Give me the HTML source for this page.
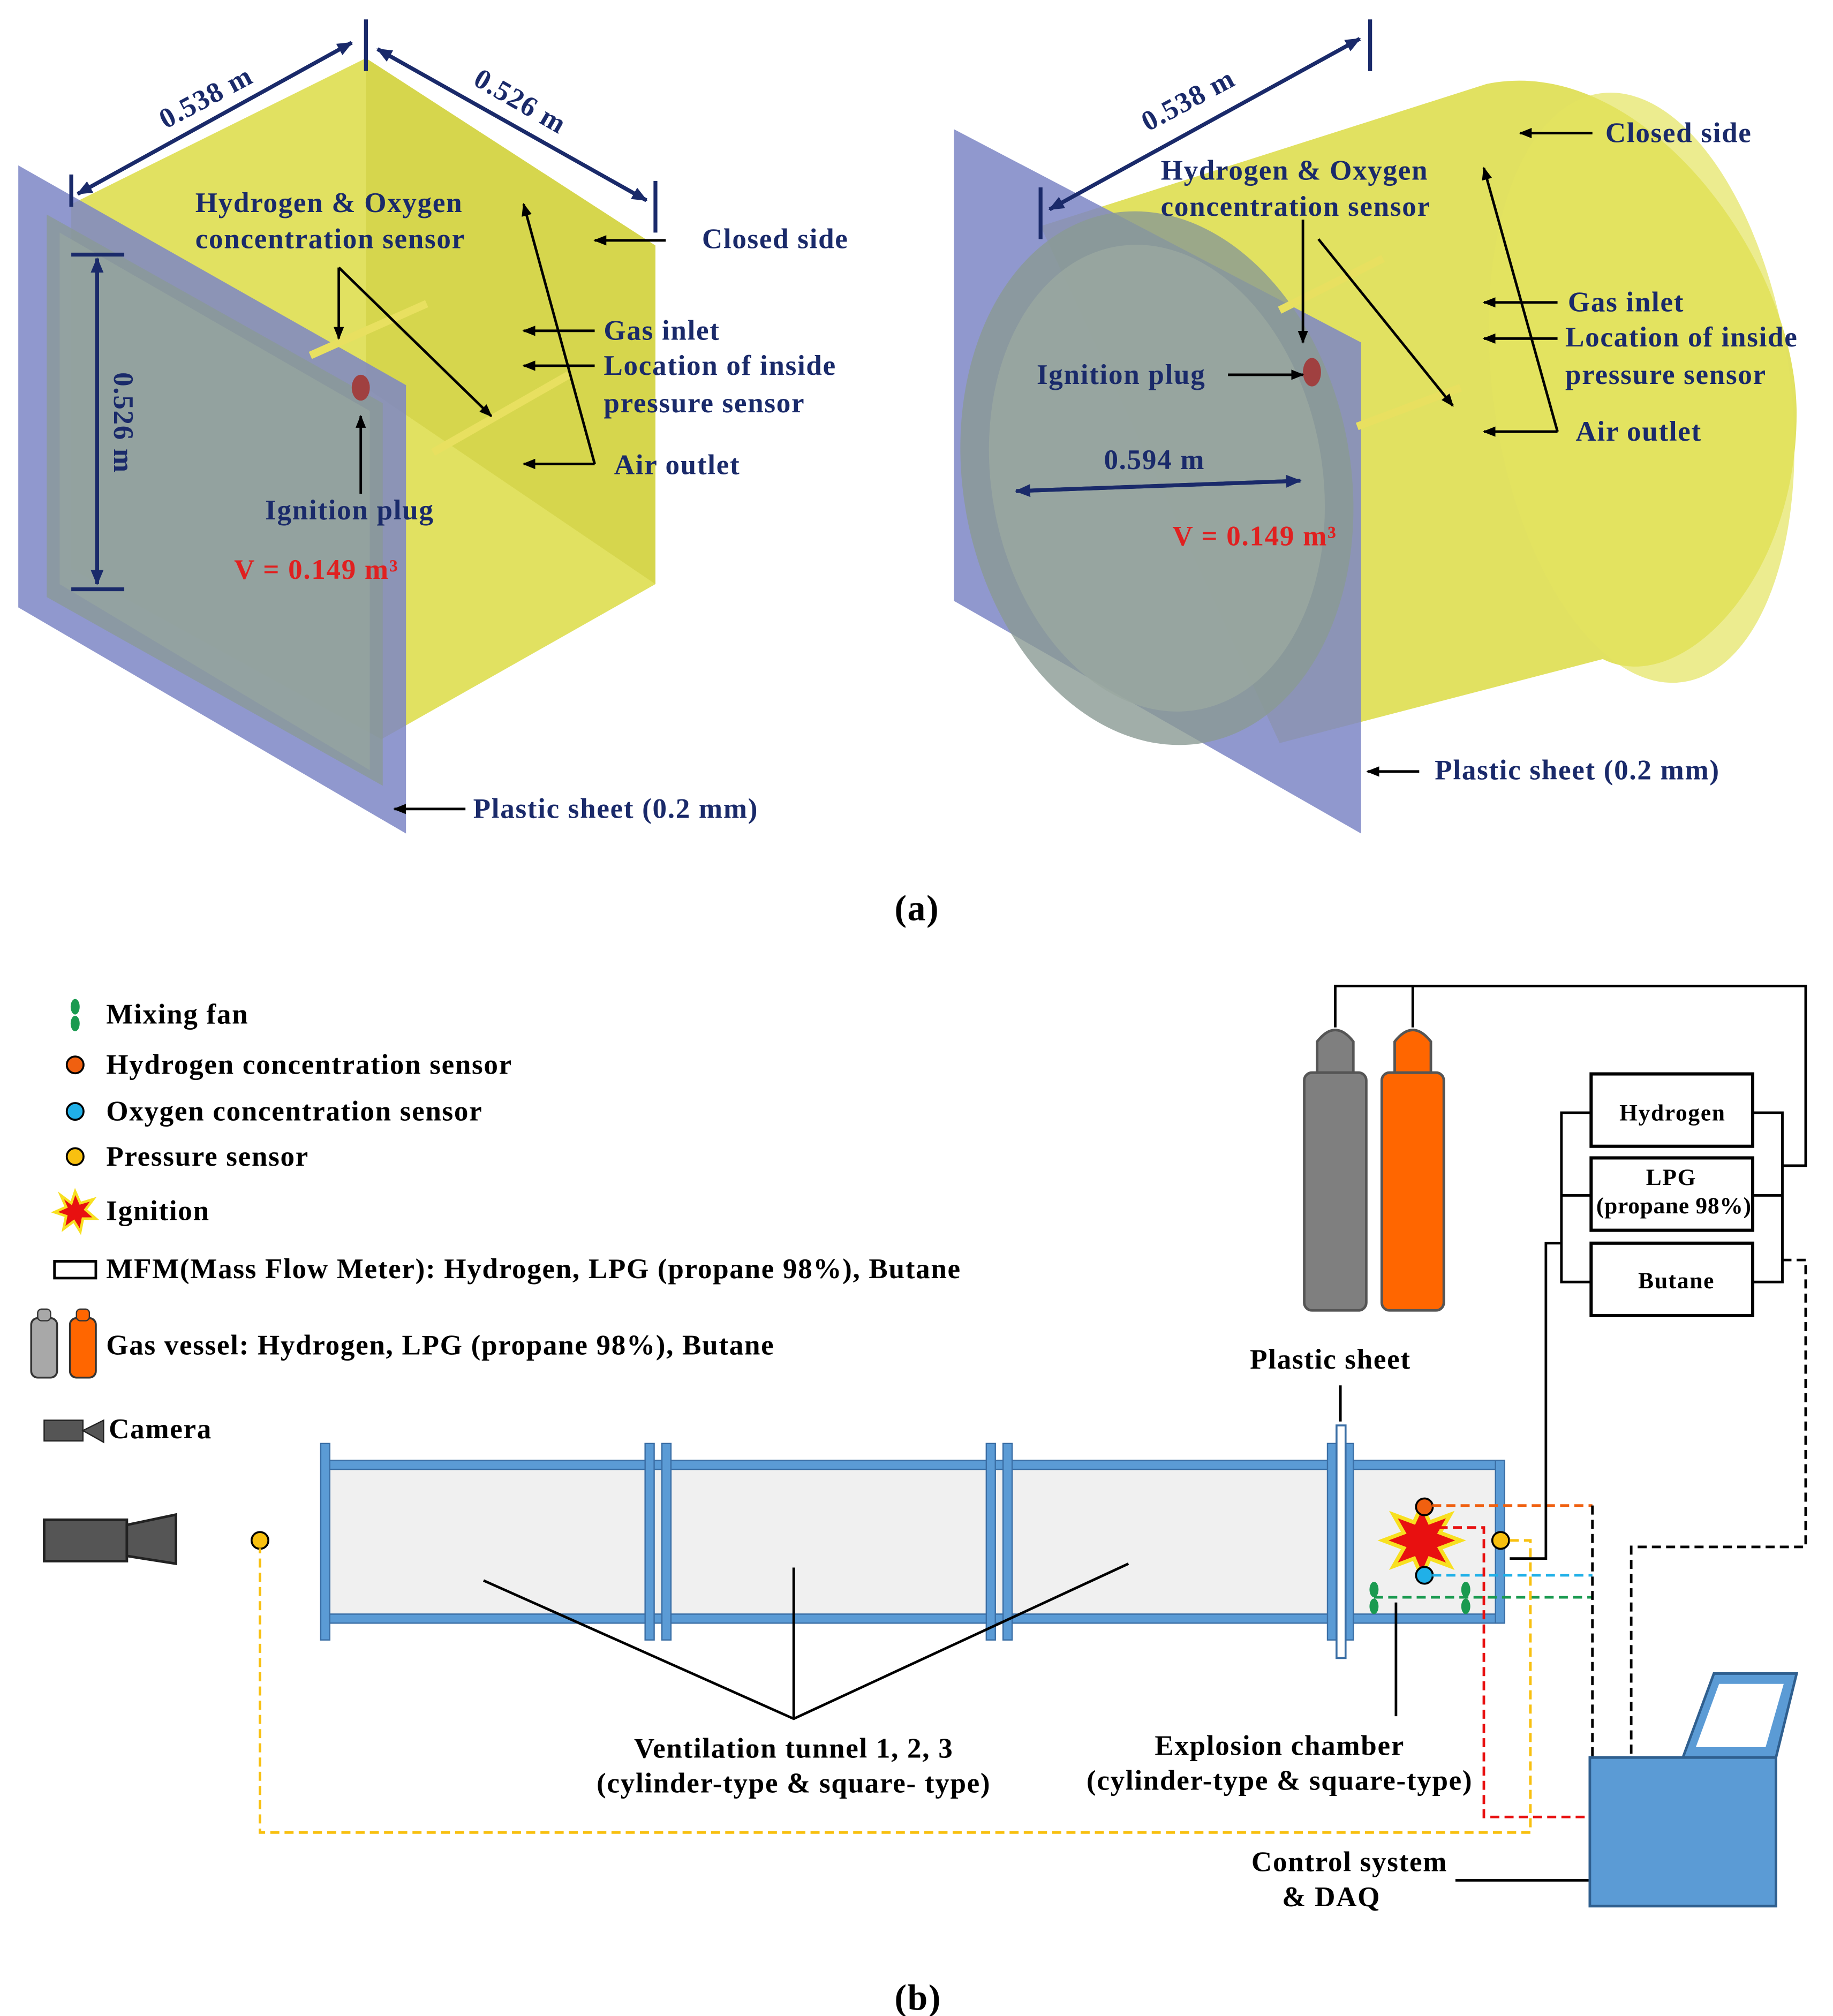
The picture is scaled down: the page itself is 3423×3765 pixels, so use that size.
<!DOCTYPE html>
<html><head><meta charset="utf-8"><style>
html,body{margin:0;padding:0;background:#fff;}
svg{display:block;}
text{font-family:"Liberation Serif",serif;font-weight:bold;letter-spacing:0.7px;}
</style></head><body>
<svg width="3423" height="3765" viewBox="0 0 1418 1560" xmlns="http://www.w3.org/2000/svg">
<defs>
<marker id="ah" markerWidth="10" markerHeight="10" refX="9" refY="5" orient="auto" markerUnits="userSpaceOnUse"><path d="M0,1 L10,5 L0,9 z" fill="#000"/></marker>
<marker id="ab" markerWidth="12" markerHeight="12" refX="11" refY="6" orient="auto" markerUnits="userSpaceOnUse"><path d="M0,1 L12,6 L0,11 z" fill="#1a2a6a"/></marker>
</defs>
<!-- ============ (a) left square ============ -->
<polygon points="55,158 283,45 507,190 507,452 295,572 55,440" fill="#dede50" opacity="0.9"/>
<polygon points="283,45 283,300 507,452 507,190" fill="#cfcf40" opacity="0.6"/>
<polygon points="14,128 314,298 314,645 14,470" fill="#7d86c6" opacity="0.85"/>
<polygon points="36,166 296,312 296,608 36,462" fill="#8a9a94" opacity="0.75"/>
<polygon points="46,180 286,318 286,596 46,452" fill="#9aa8a0" opacity="0.6"/>
<line x1="240" y1="275" x2="330" y2="235" stroke="#e8e060" stroke-width="6"/>
<line x1="335" y1="350" x2="440" y2="290" stroke="#e8e060" stroke-width="6"/>
<ellipse cx="279" cy="300" rx="7" ry="10" fill="#a04040"/>
<g stroke="#1a2a6a" stroke-width="3" fill="none">
<line x1="55" y1="135" x2="55" y2="160"/><line x1="283" y1="15" x2="283" y2="55"/><line x1="507" y1="140" x2="507" y2="180"/>
<line x1="60" y1="150" x2="272" y2="33" marker-end="url(#ab)"/><line x1="272" y1="33" x2="60" y2="150" marker-end="url(#ab)"/>
<line x1="292" y1="38" x2="500" y2="155" marker-end="url(#ab)"/><line x1="500" y1="155" x2="292" y2="38" marker-end="url(#ab)"/>
<line x1="55" y1="197" x2="96" y2="197"/><line x1="55" y1="456" x2="96" y2="456"/>
<line x1="75" y1="200" x2="75" y2="452" marker-end="url(#ab)"/><line x1="75" y1="452" x2="75" y2="200" marker-end="url(#ab)"/>
</g>
<g font-size="22" fill="#1a2a6a">
<text x="128" y="100" transform="rotate(-28 128 100)">0.538 m</text>
<text x="365" y="65" transform="rotate(30 365 65)">0.526 m</text>
<text x="88" y="288" transform="rotate(90 88 288)">0.526 m</text>
<text x="151" y="164">Hydrogen &amp; Oxygen</text>
<text x="151" y="192">concentration sensor</text>
<text x="543" y="192">Closed side</text>
<text x="467" y="263">Gas inlet</text>
<text x="467" y="290">Location of inside</text>
<text x="467" y="319">pressure sensor</text>
<text x="475" y="367">Air outlet</text>
<text x="205" y="402">Ignition plug</text>
<text x="366" y="633">Plastic sheet (0.2 mm)</text>
</g>
<text x="181" y="448" font-size="22" fill="#e02020">V = 0.149 m³</text>
<g stroke="#000" stroke-width="2" fill="none" marker-end="url(#ah)">
<path d="M262,207 L262,262"/><path d="M262,207 L380,322"/>
<path d="M515,186 L460,186"/>
<path d="M460,256 L405,256"/><path d="M460,283 L405,283"/><path d="M460,359 L405,359"/>
<path d="M460,359 L405,158"/>
<path d="M279,382 L279,322"/>
<path d="M360,626 L305,626"/>
</g>
<!-- ============ (a) right cylinder ============ -->
<path d="M805,175 L1150,65 C1270,40 1390,200 1390,320 C1390,450 1300,540 1240,510 L990,575 Z" fill="#dede50" opacity="0.9"/>
<ellipse cx="1270" cy="300" rx="115" ry="230" fill="#e4e460" opacity="0.7" transform="rotate(-8 1270 300)"/>
<polygon points="738,100 1053,265 1053,645 738,465" fill="#7d86c6" opacity="0.85"/>
<ellipse cx="895" cy="370" rx="150" ry="208" fill="#8a9a94" opacity="0.8" transform="rotate(-10 895 370)"/>
<ellipse cx="895" cy="370" rx="128" ry="182" fill="#9aa8a0" opacity="0.8" transform="rotate(-10 895 370)"/>
<line x1="990" y1="240" x2="1070" y2="200" stroke="#e8e060" stroke-width="6"/>
<line x1="1050" y1="330" x2="1130" y2="300" stroke="#e8e060" stroke-width="6"/>
<ellipse cx="1015" cy="288" rx="7" ry="11" fill="#a04040"/>
<g stroke="#1a2a6a" stroke-width="3" fill="none">
<line x1="805" y1="145" x2="805" y2="185"/><line x1="1060" y1="15" x2="1060" y2="55"/>
<line x1="812" y1="162" x2="1052" y2="30" marker-end="url(#ab)"/><line x1="1052" y1="30" x2="812" y2="162" marker-end="url(#ab)"/>
<line x1="786" y1="380" x2="1006" y2="372" marker-end="url(#ab)"/><line x1="1006" y1="372" x2="786" y2="380" marker-end="url(#ab)"/>
</g>
<g font-size="22" fill="#1a2a6a">
<text x="888" y="102" transform="rotate(-28 888 102)">0.538 m</text>
<text x="898" y="139">Hydrogen &amp; Oxygen</text>
<text x="898" y="167">concentration sensor</text>
<text x="1242" y="110">Closed side</text>
<text x="1213" y="241">Gas inlet</text>
<text x="1211" y="268">Location of inside</text>
<text x="1211" y="297">pressure sensor</text>
<text x="1219" y="341">Air outlet</text>
<text x="802" y="297">Ignition plug</text>
<text x="854" y="363">0.594 m</text>
<text x="1110" y="603">Plastic sheet (0.2 mm)</text>
</g>
<text x="907" y="422" font-size="22" fill="#e02020">V = 0.149 m³</text>
<g stroke="#000" stroke-width="2" fill="none" marker-end="url(#ah)">
<path d="M1232,103 L1176,103"/>
<path d="M1008,170 L1008,265"/><path d="M1020,185 L1124,314"/>
<path d="M950,290 L1008,290"/>
<path d="M1205,234 L1148,234"/><path d="M1205,262 L1148,262"/><path d="M1205,334 L1148,334"/>
<path d="M1205,334 L1148,130"/>
<path d="M1098,597 L1058,597"/>
</g>
<text x="692" y="712" font-size="28">(a)</text>

<!-- ============ (b) legend ============ -->
<g font-size="22" fill="#000">
<ellipse cx="58" cy="779" rx="3.5" ry="6" fill="#1a9a50"/><ellipse cx="58" cy="792" rx="3.5" ry="6" fill="#1a9a50"/>
<text x="82" y="792">Mixing fan</text>
<circle cx="58" cy="824" r="6.5" fill="#f06010" stroke="#000" stroke-width="1.5"/><text x="82" y="831">Hydrogen concentration sensor</text>
<circle cx="58" cy="860" r="6.5" fill="#20b0e8" stroke="#000" stroke-width="1.5"/><text x="82" y="867">Oxygen concentration sensor</text>
<circle cx="58" cy="895" r="6.5" fill="#f8c010" stroke="#000" stroke-width="1.5"/><text x="82" y="902">Pressure sensor</text>
<polygon points="58,922 62,931 72,928 66,936 74,943 64,943 62,953 57,945 49,951 51,941 42,938 51,934 47,925 55,931" fill="#e81010" stroke="#f8e020" stroke-width="2"/>
<text x="82" y="944">Ignition</text>
<rect x="42" y="976" width="32" height="13" fill="#fff" stroke="#000" stroke-width="2"/>
<text x="82" y="989">MFM(Mass Flow Meter): Hydrogen, LPG (propane 98%), Butane</text>
<rect x="24" y="1020" width="20" height="46" rx="5" fill="#a8a8a8" stroke="#333" stroke-width="1.5"/>
<rect x="54" y="1020" width="20" height="46" rx="5" fill="#ff6600" stroke="#333" stroke-width="1.5"/>
<rect x="29" y="1013" width="10" height="9" rx="3" fill="#a8a8a8" stroke="#333"/><rect x="59" y="1013" width="10" height="9" rx="3" fill="#ff6600" stroke="#333"/>
<text x="82" y="1048">Gas vessel: Hydrogen, LPG (propane 98%), Butane</text>
<rect x="34" y="1099" width="30" height="16" fill="#555" stroke="#222"/><polygon points="64,1107 80,1099 80,1116" fill="#555" stroke="#222"/>
<text x="84" y="1113">Camera</text>
</g>
<rect x="34" y="1176" width="64" height="32" fill="#555" stroke="#222" stroke-width="2"/>
<polygon points="98,1180 136,1172 136,1210 98,1204" fill="#555" stroke="#222" stroke-width="2"/>
<circle cx="201" cy="1192" r="6.5" fill="#f8c010" stroke="#000" stroke-width="1.5"/>
<!-- tunnel -->
<rect x="250" y="1134" width="914" height="118" fill="#f0f0f0"/>
<g fill="#5b9bd5" stroke="#3a6ea5" stroke-width="1">
<rect x="250" y="1130" width="914" height="7"/><rect x="250" y="1249" width="914" height="7"/>
<rect x="1157" y="1130" width="7" height="126"/>
<rect x="248" y="1117" width="7" height="152"/>
<rect x="499" y="1117" width="7" height="152"/><rect x="512" y="1117" width="7" height="152"/>
<rect x="763" y="1117" width="7" height="152"/><rect x="776" y="1117" width="7" height="152"/>
<rect x="1027" y="1117" width="7" height="152"/><rect x="1040" y="1117" width="7" height="152"/>
</g>
<rect x="1034" y="1103" width="7" height="180" fill="#fff" stroke="#3a6ea5" stroke-width="1.5"/>
<line x1="1037" y1="1072" x2="1037" y2="1100" stroke="#000" stroke-width="2"/>
<text x="967" y="1059" font-size="22">Plastic sheet</text>
<!-- chamber contents -->
<polygon points="1100,1165 1106,1178 1122,1172 1114,1186 1130,1192 1114,1198 1122,1212 1106,1206 1100,1220 1094,1206 1078,1212 1086,1198 1070,1192 1086,1186 1078,1172 1094,1178" fill="#e81010" stroke="#f8e020" stroke-width="3"/>
<g stroke="#000" stroke-width="1.5">
<circle cx="1102" cy="1166" r="6.5" fill="#f06010"/>
<circle cx="1102" cy="1219" r="6.5" fill="#20b0e8"/>
<circle cx="1161" cy="1192" r="6.5" fill="#f8c010"/>
</g>
<g fill="#1a9a50"><ellipse cx="1063" cy="1230" rx="3.5" ry="6"/><ellipse cx="1063" cy="1243" rx="3.5" ry="6"/><ellipse cx="1134" cy="1230" rx="3.5" ry="6"/><ellipse cx="1134" cy="1243" rx="3.5" ry="6"/></g>
<!-- dashed -->
<g fill="none" stroke-width="2" stroke-dasharray="7,4">
<path d="M1108,1165 L1232,1165" stroke="#f06010"/>
<path d="M1108,1219 L1232,1219" stroke="#20b0e8"/>
<path d="M1063,1236 L1232,1236" stroke="#1a9a50"/>
<path d="M1102,1182 L1148,1182 L1148,1406 L1232,1406" stroke="#e81010"/>
<path d="M1168,1192 L1184,1192 L1184,1418 L201,1418 L201,1198" stroke="#f8c010"/>
<path d="M1232,1165 L1232,1360" stroke="#000"/>
<path d="M1379,975 L1397,975 L1397,1197 L1262,1197 L1262,1360" stroke="#000"/>
</g>
<!-- cylinders -->
<g stroke="#555" stroke-width="2">
<rect x="1009" y="830" width="48" height="184" rx="6" fill="#7f7f7f"/>
<path d="M1019,830 L1019,806 Q1033,788 1047,806 L1047,830 Z" fill="#7f7f7f"/>
<rect x="1069" y="830" width="48" height="184" rx="6" fill="#ff6600"/>
<path d="M1079,830 L1079,806 Q1093,788 1107,806 L1107,830 Z" fill="#ff6600"/>
</g>
<g stroke="#000" stroke-width="2" fill="none">
<path d="M1033,795 L1033,763 L1397,763 L1397,902 L1379,902"/>
<path d="M1093,795 L1093,763"/>
<path d="M1356,861 L1379,861 L1379,992 L1356,992"/>
<path d="M1356,925 L1379,925"/>
<path d="M1231,861 L1208,861 L1208,992 L1231,992"/><path d="M1208,925 L1231,925"/>
<path d="M1208,962 L1196,962 L1196,1206 L1168,1206"/>
<path d="M614,1213 L614,1330"/><path d="M374,1223 L614,1330 L873,1210"/>
<path d="M1080,1240 L1080,1328"/>
<path d="M1126,1455 L1290,1455"/>
</g>
<g stroke="#000" stroke-width="2.5" fill="#fff">
<rect x="1231" y="831" width="125" height="56"/>
<rect x="1231" y="896" width="125" height="56"/>
<rect x="1231" y="962" width="125" height="56"/>
</g>
<g font-size="18" text-anchor="middle">
<text x="1294" y="867">Hydrogen</text>
<text x="1293" y="917">LPG</text>
<text x="1295" y="939" style="letter-spacing:0.3px">(propane 98%)</text>
<text x="1297" y="997">Butane</text>
</g>
<!-- computer -->
<polygon points="1302,1360 1326,1295 1390,1295 1374,1360" fill="#5b9bd5" stroke="#2f5f8f" stroke-width="2"/>
<polygon points="1312,1352 1330,1303 1380,1303 1366,1352" fill="#fff"/>
<rect x="1230" y="1360" width="144" height="115" fill="#5b9bd5" stroke="#2f5f8f" stroke-width="2"/>
<g font-size="22" text-anchor="middle">
<text x="614" y="1360">Ventilation tunnel 1, 2, 3</text>
<text x="614" y="1387">(cylinder-type &amp; square- type)</text>
<text x="990" y="1358">Explosion chamber</text>
<text x="990" y="1385">(cylinder-type &amp; square-type)</text>
<text x="1044" y="1448">Control system</text>
<text x="1030" y="1475">&amp; DAQ</text>
</g>
<text x="692" y="1555" font-size="28">(b)</text>
</svg>
</body></html>
